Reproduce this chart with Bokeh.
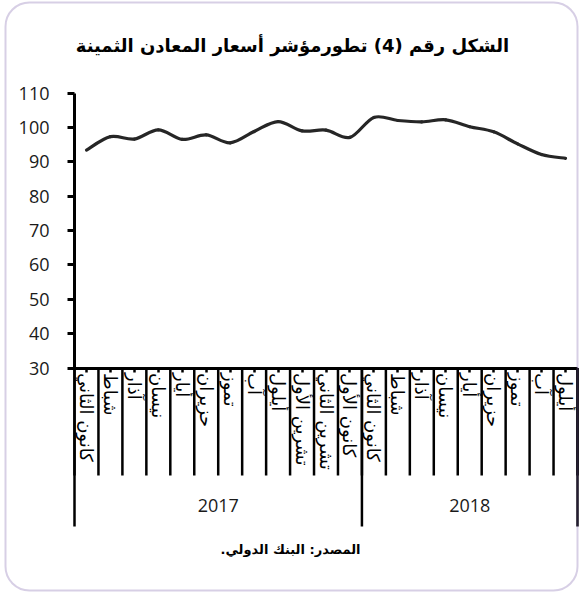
import numpy as np
from bokeh.plotting import figure
from bokeh.models import Range1d, LinearAxis, FixedTicker, Label, BoxAnnotation
from bokeh.embed import file_html
from bokeh.resources import INLINE

# ---------------- data ----------------
title_text = "الشكل رقم (4) تطورمؤشر أسعار المعادن الثمينة"
source_text = "المصدر: البنك الدولي.\u200f"
years = ["2017", "2018"]
months_2017 = ["كانون الثاني", "شباط", "آذار", "نيسان", "أيار", "حزيران", "تموز",
               "آب", "أيلول", "تشرين الأول", "تشرين الثاني", "كانون الأول"]
months_2018 = ["كانون الثاني", "شباط", "آذار", "نيسان", "أيار", "حزيران", "تموز",
               "آب", "أيلول"]
index_2017 = [93.4, 97.3, 96.6, 99.3, 96.5, 97.8, 95.5, 98.8, 101.7, 99.0, 99.2, 97.1]
index_2018 = [102.9, 102.0, 101.6, 102.2, 100.2, 98.7, 95.2, 92.1, 91.0]
y_ticks = [30, 40, 50, 60, 70, 80, 90, 100, 110]

# ---------------- layout (pixels inside the figure) ----------------
W, H = 579, 592
FL, FR, FT, FB = 74, 577, 92.5, 367.5          # plot area box
groups = [months_2017, months_2018]
month_labels = months_2017 + months_2018
values = index_2017 + index_2018
n = len(month_labels)
X0, X1 = -0.5, n - 0.5
Y0, Y1 = y_ticks[0], y_ticks[-1]

def xd(px):
    return X0 + (px - FL) / (FR - FL) * (X1 - X0)

def yd(px):
    return Y0 + (FB - px) / (FB - FT) * (Y1 - Y0)

p = figure(width=W, height=H, output_backend="svg", toolbar_location=None,
           x_range=Range1d(xd(0), xd(W)), y_range=Range1d(yd(H), yd(0)),
           min_border=0, min_border_left=0, min_border_right=0,
           min_border_top=0, min_border_bottom=0,
           x_axis_type=None, y_axis_type=None)
p.outline_line_color = None
p.background_fill_color = "white"
p.border_fill_color = "white"

# y axis
yaxis = LinearAxis(ticker=FixedTicker(ticks=y_ticks, minor_ticks=[]),
                   fixed_location=X0, bounds=(Y0, Y1),
                   axis_line_width=3, axis_line_color="black",
                   major_tick_out=7, major_tick_in=0, major_tick_line_width=3,
                   major_tick_line_color="black",
                   minor_tick_out=0, minor_tick_in=0,
                   major_label_standoff=18,
                   major_label_text_font="Open Sans",
                   major_label_text_font_size="18px",
                   major_label_text_color="#1a1a1a")
p.add_layout(yaxis, "left")

# x axis (months)
centers = list(range(n))
xaxis = LinearAxis(ticker=FixedTicker(ticks=centers, minor_ticks=[]),
                   fixed_location=Y0, bounds=(X0, X1),
                   major_label_overrides={c: m for c, m in zip(centers, month_labels)},
                   major_label_orientation="vertical",
                   axis_line_width=3, axis_line_color="black",
                   major_tick_out=4, major_tick_in=0, major_tick_line_width=2.5,
                   major_tick_line_color="black",
                   minor_tick_out=0, minor_tick_in=0,
                   major_label_standoff=1,
                   major_label_text_font="DejaVu Sans",
                   major_label_text_font_size="18px",
                   major_label_text_color="black")
p.add_layout(xaxis, "below")

# month separators
bounds = [i - 0.5 for i in range(n + 1)]
p.segment(x0=bounds, y0=[Y0] * len(bounds), x1=bounds, y1=[yd(475)] * len(bounds),
          line_color="black", line_width=2.5)

# year separators and labels
start = 0
year_bounds = [bounds[0]]
for yr, g in zip(years, groups):
    mid = start + (len(g) - 1) / 2
    p.add_layout(Label(x=mid, y=yd(505), text=yr, text_align="center",
                       text_baseline="middle", text_font="Open Sans",
                       text_font_size="18px", text_color="#1a1a1a"))
    start += len(g)
    year_bounds.append(start - 0.5)
p.segment(x0=year_bounds, y0=[Y0] * len(year_bounds), x1=year_bounds,
          y1=[yd(526)] * len(year_bounds), line_color="black", line_width=2.5)

# smooth line through the data (cubic bezier, Catmull-Rom style)
x = np.array(centers, dtype=float)
y = np.array(values, dtype=float)
xp = np.concatenate([[x[0]], x, [x[-1]]])
yp = np.concatenate([[y[0]], y, [y[-1]]])
cx0 = x[:-1] + (xp[2:-1] - xp[:-3]) / 6
cy0 = y[:-1] + (yp[2:-1] - yp[:-3]) / 6
cx1 = x[1:] - (xp[3:] - xp[1:-2]) / 6
cy1 = y[1:] - (yp[3:] - yp[1:-2]) / 6
p.bezier(x0=x[:-1], y0=y[:-1], x1=x[1:], y1=y[1:],
         cx0=cx0, cy0=cy0, cx1=cx1, cy1=cy1,
         line_color="#262626", line_width=3.2, line_cap="round")

# title and source
p.add_layout(Label(x=xd(292), y=yd(45), text=title_text, text_align="center",
                   text_baseline="middle", text_font="DejaVu Sans",
                   text_font_style="bold", text_font_size="18px", text_color="black"))
p.add_layout(Label(x=xd(290), y=yd(549), text=source_text, text_align="center",
                   text_baseline="middle", text_font="DejaVu Sans",
                   text_font_style="bold", text_font_size="13px", text_color="black"))

# rounded border
p.add_layout(BoxAnnotation(left=xd(5), right=xd(577), top=yd(2), bottom=yd(590),
                           fill_alpha=0, line_color="#7B5FA8", line_width=2,
                           border_radius=24, level="overlay"))

open("out.html", "w").write(file_html(p, INLINE))
